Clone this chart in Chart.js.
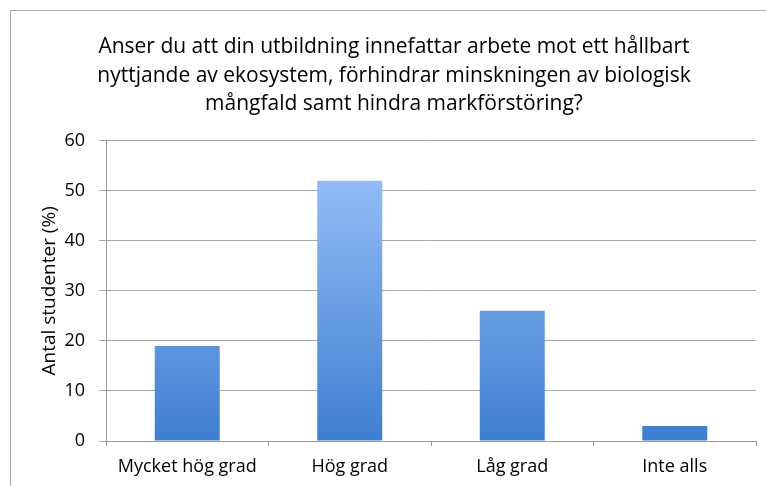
<!DOCTYPE html>
<html>
<head>
<meta charset="utf-8">
<script src="https://cdn.jsdelivr.net/npm/chart.js@4"></script>
<style>
  html, body { margin: 0; padding: 0; background: #fff; overflow: hidden; }
  #wrap { position: relative; width: 766px; height: 486px; }
  #frame { position: absolute; left: 10px; top: 10px; width: 800px; height: 600px; border: 1px solid #a9a9a9; box-sizing: border-box; }
  canvas { position: absolute; left: 0; top: 0; }
</style>
</head>
<body>
<div id="wrap">
  <div id="frame"></div>
  <canvas id="c" width="766" height="486"></canvas>
</div>
<script>
const titleLines = [
  "Anser du att din utbildning innefattar arbete mot ett hållbart",
  "nyttjande av ekosystem, förhindrar minskningen av biologisk",
  "mångfald samt hindra markförstöring?"
];
const categories = ["Mycket hög grad", "Hög grad", "Låg grad", "Inte alls"];
const values = [19, 52, 26, 3];
const yAxisTitle = "Antal studenter (%)";
const yMin = 0, yMax = 60, yStep = 10;

const FONT = "'Open Sans', 'Liberation Sans', sans-serif";

function barGradient(ctx) {
  const chart = ctx.chart;
  const area = chart.chartArea;
  if (!area) return '#5b93e0';
  const el = ctx.element;
  const top = el && el.y !== undefined ? el.y : area.top;
  const bottom = el && el.base !== undefined ? el.base : area.bottom;
  if (!isFinite(top) || !isFinite(bottom) || top === bottom) return '#5b93e0';
  const g = chart.ctx.createLinearGradient(0, top, 0, bottom);
  g.addColorStop(0, '#9fc4fc');
  g.addColorStop(1, '#3f7fd0');
  return g;
}

new Chart(document.getElementById('c'), {
  type: 'bar',
  data: {
    labels: categories,
    datasets: [{
      data: values,
      backgroundColor: barGradient,
      borderWidth: 0,
      categoryPercentage: 0.4,
      barPercentage: 1.0
    }]
  },
  options: {
    responsive: false,
    animation: false,
    events: [],
    layout: { padding: { left: 32, right: 10, top: 0, bottom: 0 } },
    plugins: {
      legend: { display: false },
      tooltip: { enabled: false },
      title: {
        display: true,
        text: titleLines,
        color: '#000',
        font: { family: FONT, size: 21, weight: 'normal', lineHeight: 1.36 },
        padding: { top: 33, bottom: 22 }
      }
    },
    scales: {
      x: {
        grid: { display: true, drawOnChartArea: false, drawTicks: true, tickLength: 5, color: '#9a9a9a' },
        border: { color: '#9a9a9a', width: 1 },
        ticks: { color: '#000', font: { family: FONT, size: 18 }, padding: 10, maxRotation: 0 },
        afterFit: (s) => { s.height = 45; }
      },
      y: {
        min: yMin, max: yMax,
        grid: { color: '#a8a8a8', lineWidth: 1, tickLength: 7, drawTicks: true },
        border: { color: '#9a9a9a', width: 1 },
        ticks: { stepSize: yStep, color: '#000', font: { family: FONT, size: 18 }, padding: 14 },
        title: {
          display: true, text: yAxisTitle, color: '#000',
          font: { family: FONT, size: 19 }, padding: { top: 6, bottom: 4 }
        },
        afterFit: (s) => { s.width = 74; }
      }
    }
  }
});
</script>
</body>
</html>
